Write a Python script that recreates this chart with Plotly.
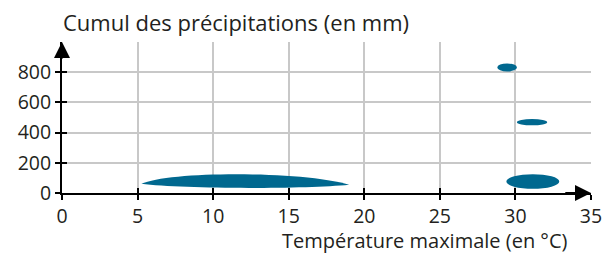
import plotly.graph_objects as go

# ---- data ----
x_ticks = [0, 5, 10, 15, 20, 25, 30, 35]
y_ticks = [0, 200, 400, 600, 800]
# blobs: temperature range (°C) and precipitation range (mm)
blob_tmin = [5.25, 28.8, 30.1, 29.4]
blob_tmax = [19.0, 30.1, 32.1, 32.9]
blob_pmin = [35, 805, 448, 28]
blob_pmax = [127, 858, 490, 125]

x_title = "Température maximale (en °C)"
y_title = "Cumul des précipitations (en mm)"

BLUE = "#00688f"
GRID = "#c8c8c8"
TXT = "#231f20"
FONT = "Open Sans"
FS = 19.5

fig = go.Figure()
fig.add_trace(go.Scatter(x=[None], y=[None], xaxis="x", yaxis="y", showlegend=False))
fig.add_trace(go.Scatter(x=[None], y=[None], xaxis="x2", yaxis="y2", showlegend=False))

shapes = []
# first blob: tapered lens shape
x0, x1, y0, y1 = blob_tmin[0], blob_tmax[0], blob_pmin[0], blob_pmax[0]
w, h = x1 - x0, y1 - y0
yl = y0 + 0.28 * h
yr = y0 + 0.22 * h
path = (f"M {x0},{yl} C {x0 + 0.13*w},{y1 + 0.22*h} {x0 + 0.78*w},{y1 + 0.22*h} {x1},{yr} "
        f"C {x0 + 0.78*w},{y0 - 0.1*h} {x0 + 0.2*w},{y0 - 0.1*h} {x0},{yl} Z")
shapes.append(dict(type="path", path=path, xref="x", yref="y",
                   fillcolor=BLUE, line=dict(width=0)))
for i in range(1, len(blob_tmin)):
    shapes.append(dict(type="circle", xref="x", yref="y",
                       x0=blob_tmin[i], x1=blob_tmax[i], y0=blob_pmin[i], y1=blob_pmax[i],
                       fillcolor=BLUE, line=dict(width=0)))

L, R, T, B = 62, 22, 42, 62
pw, ph = 613 - L - R, 255 - T - B

def px(xp):
    return (xp - L) / pw

def py(yp):
    return (255 - B - yp) / ph

annotations = [
    dict(x=35, y=0, ax=33.2, ay=0, xref="x", yref="y", axref="x", ayref="y",
         text="", showarrow=True, arrowhead=2, arrowsize=1.6, arrowwidth=2, arrowcolor="#000"),
    dict(x=0, y=1000, ax=0, ay=880, xref="x", yref="y", axref="x", ayref="y",
         text="", showarrow=True, arrowhead=2, arrowsize=1.6, arrowwidth=2, arrowcolor="#000"),
    dict(x=px(61), y=py(22), xref="paper", yref="paper", text=y_title, showarrow=False,
         xanchor="left", yanchor="middle", font=dict(size=22, color=TXT, family=FONT)),
    dict(x=px(281), y=py(255), xref="paper", yref="paper", text=x_title, showarrow=False,
         xanchor="left", yanchor="bottom", borderpad=0,
         font=dict(size=20, color=TXT, family=FONT)),
]

axis_common = dict(showline=True, linecolor="#000", linewidth=2, zeroline=False,
                   ticks="outside", ticklen=5, tickwidth=2, tickcolor="#000",
                   showgrid=True, gridcolor=GRID, gridwidth=1.5, automargin=False,
                   tickfont=dict(size=FS, color=TXT, family=FONT))

fig.update_layout(
    width=613, height=255,
    margin=dict(l=L, r=R, t=T, b=B, autoexpand=False),
    paper_bgcolor="white", plot_bgcolor="white",
    showlegend=False,
    xaxis=dict(range=[0, 35], tickvals=x_ticks, **axis_common),
    yaxis=dict(range=[0, 1000], tickvals=y_ticks,
               minor=dict(tickvals=[1000], showgrid=True, gridcolor=GRID, gridwidth=1.5, ticks=""),
               **axis_common),
    xaxis2=dict(range=[0, 35], tickvals=x_ticks, overlaying="x", side="bottom",
                ticks="inside", ticklen=5, tickwidth=2, tickcolor="#000",
                showticklabels=False, showgrid=False, showline=False, zeroline=False),
    yaxis2=dict(range=[0, 1000], tickvals=y_ticks, overlaying="y", side="left",
                ticks="inside", ticklen=5, tickwidth=2, tickcolor="#000",
                showticklabels=False, showgrid=False, showline=False, zeroline=False),
    shapes=shapes,
    annotations=annotations,
)

fig.write_html("out.html", config={"displayModeBar": False},
               post_script="document.body.style.margin='0';document.body.style.overflow='hidden';")
